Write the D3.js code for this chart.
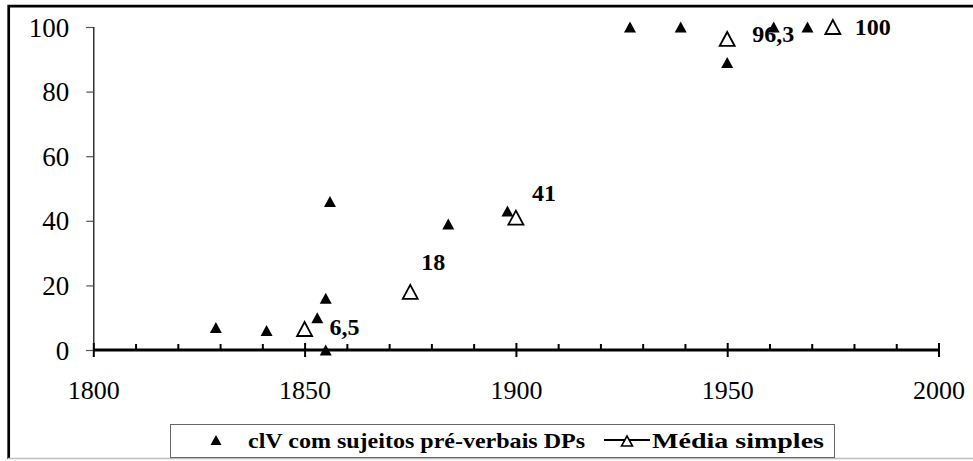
<!DOCTYPE html>
<html>
<head>
<meta charset="utf-8">
<script src="https://cdn.jsdelivr.net/npm/d3@7"></script>
<style>
  html, body { margin: 0; padding: 0; background: #fff; }
  svg { display: block; }
</style>
</head>
<body>
<svg id="chart" width="973" height="461"></svg>
<script>
// ---- data ----
const pointYears  = [1829, 1841, 1853, 1855, 1855, 1856, 1884, 1898, 1927, 1939, 1950, 1961, 1969];
const pointValues = [7, 6, 10, 16, 0, 46, 39, 43, 100, 100, 89, 100, 100];
const meanYears   = [1850, 1875, 1900, 1950, 1975];
const meanValues  = [6.5, 18, 41, 96.3, 100];
const meanLabels  = ["6,5", "18", "41", "96,3", "100"];
const xTicks = [1800, 1850, 1900, 1950, 2000];
const yTicks = [0, 20, 40, 60, 80, 100];
const seriesNames = ["clV com sujeitos pré-verbais DPs", "Média simples"];

// ---- layout ----
const FONT = '"Liberation Serif", "Times New Roman", serif';
const labelOffsets = [[25, 6], [11, -22], [16, -17], [25, 3], [22, 8]];
const svg = d3.select("#chart");
const x = d3.scaleLinear().domain([1800, 2000]).range([93.3, 938.5]);
const y = d3.scaleLinear().domain([0, 100]).range([350, 27]);

// outer frame (cropped: left + top black, bottom light gray)
svg.append("path").attr("d", "M8.7,459 V6.2 H976")
  .attr("fill", "none").attr("stroke", "#000").attr("stroke-width", 2.7);
svg.append("line").attr("x1", 8).attr("x2", 973).attr("y1", 458.5).attr("y2", 458.5)
  .attr("stroke", "#bdbdbd").attr("stroke-width", 1.5);

// y axis
const yAxis = svg.append("g").attr("transform", `translate(${x(1800)},0)`)
  .call(d3.axisLeft(y).tickValues(yTicks).tickSize(7).tickPadding(17).tickFormat(d3.format("d")));
yAxis.select(".domain").attr("stroke", "#000").attr("stroke-width", 1.2);
yAxis.selectAll(".tick line").attr("stroke", "#555").attr("stroke-width", 1.2);
yAxis.selectAll(".tick text").attr("font-size", 27).attr("fill", "#000")
  .style("font-family", FONT).attr("dy", "0.34em");

// x axis: labels + major ticks crossing the axis
const xAxis = svg.append("g").attr("transform", `translate(0,${y(0)})`)
  .call(d3.axisBottom(x).tickValues(xTicks).tickSize(7).tickPadding(24).tickFormat(d3.format("d")));
xAxis.select(".domain").remove();
xAxis.selectAll(".tick line").attr("y1", -7).attr("y2", 7).attr("stroke", "#000").attr("stroke-width", 2);
xAxis.selectAll(".tick text").attr("font-size", 26).attr("fill", "#000")
  .style("font-family", FONT);
// minor ticks
const minor = d3.range(1810, 2000, 10).filter(v => v % 50 !== 0);
svg.append("g").attr("transform", `translate(0,${y(0)})`)
  .call(d3.axisTop(x).tickValues(minor).tickSize(6).tickFormat(""))
  .call(g => g.select(".domain").remove())
  .selectAll(".tick line").attr("stroke", "#000").attr("stroke-width", 2);
// axis line
svg.append("line").attr("x1", x(1800)).attr("x2", x(2000)).attr("y1", y(0)).attr("y2", y(0))
  .attr("stroke", "#000").attr("stroke-width", 3);

// triangle symbols
function tri(w, h) { return `M0,${-h/2} L${w/2},${h/2} L${-w/2},${h/2} Z`; }

// filled triangles
svg.append("g").selectAll("path").data(pointYears).join("path")
  .attr("d", tri(12, 11))
  .attr("transform", (d, i) => `translate(${x(d)},${y(pointValues[i])})`)
  .attr("fill", "#000");

// open triangles (mean)
svg.append("g").selectAll("path").data(meanYears).join("path")
  .attr("d", tri(15, 14))
  .attr("transform", (d, i) => `translate(${x(d)},${y(meanValues[i])})`)
  .attr("fill", "#fff").attr("stroke", "#000").attr("stroke-width", 1.8);

// labels
svg.append("g").selectAll("text").data(meanLabels).join("text")
  .attr("x", (d, i) => x(meanYears[i]) + labelOffsets[i][0])
  .attr("y", (d, i) => y(meanValues[i]) + labelOffsets[i][1])
  .attr("font-size", 24).attr("font-weight", "bold").attr("fill", "#000")
  .style("font-family", FONT)
  .text(d => d);

// legend
const lg = svg.append("g");
lg.append("rect").attr("x", 170.5).attr("y", 424.5).attr("width", 664).attr("height", 33)
  .attr("fill", "#fff").attr("stroke", "#666").attr("stroke-width", 1);
lg.append("path").attr("d", tri(11, 10)).attr("transform", "translate(216,440)").attr("fill", "#000");
lg.append("text").attr("x", 248).attr("y", 448).attr("font-size", 22).attr("font-weight", "bold")
  .style("font-family", FONT)
  .attr("textLength", 337).attr("lengthAdjust", "spacingAndGlyphs").text(seriesNames[0]);
lg.append("line").attr("x1", 604).attr("x2", 650).attr("y1", 440).attr("y2", 440)
  .attr("stroke", "#000").attr("stroke-width", 2);
lg.append("path").attr("d", tri(11, 10)).attr("transform", "translate(627,441)")
  .attr("fill", "#fff").attr("stroke", "#000").attr("stroke-width", 1.6);
lg.append("text").attr("x", 652).attr("y", 448).attr("font-size", 22).attr("font-weight", "bold")
  .style("font-family", FONT)
  .attr("textLength", 172).attr("lengthAdjust", "spacingAndGlyphs").text(seriesNames[1]);
</script>
</body>
</html>
